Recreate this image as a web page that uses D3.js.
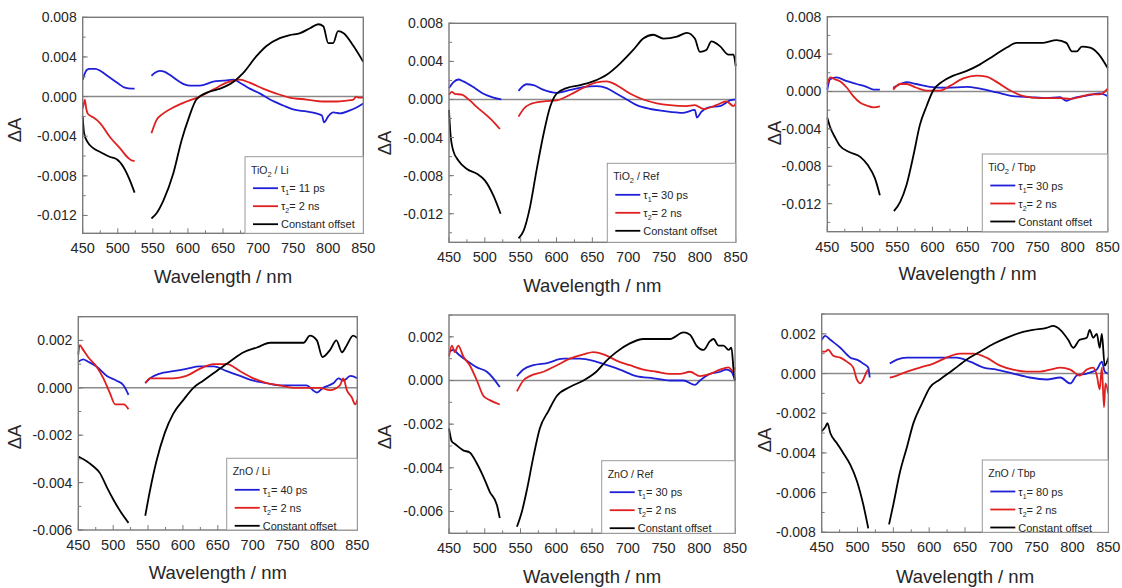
<!DOCTYPE html>
<html><head><meta charset="utf-8">
<script src="https://cdn.jsdelivr.net/npm/d3@7"></script>
<style>body{margin:0;background:#fff}svg{display:block;font-family:"Liberation Sans",Arial,sans-serif}</style>
</head><body><svg id="c" width="1122" height="588"></svg>
<script>
// ---------- data ----------
const xTicks = [450,500,550,600,650,700,750,800,850];
const yTicksTiO2 = [-0.012,-0.008,-0.004,0,0.004,0.008];
const yTicksZnOLi = [-0.006,-0.004,-0.002,0,0.002];
const yTicksZnORef = [-0.006,-0.004,-0.002,0,0.002];
const yTicksZnOTbp = [-0.008,-0.006,-0.004,-0.002,0,0.002];
const seriesNames = ["τ1", "τ2", "Constant offset"];
const tau1Labels = ["11 ps","30 ps","30 ps","40 ps","30 ps","80 ps"];
const tau2Label = "2 ns";
const sampleNames = [["TiO","2"," / Li"],["TiO","2"," / Ref"],["TiO","2"," / Tbp"],["ZnO",""," / Li"],["ZnO",""," / Ref"],["ZnO",""," / Tbp"]];

// TiO2 / Li
const tiLiBlue = [
 [[450,0.0017],[456,0.0027],[460,0.0028],[468,0.0028],[475,0.0026],[485,0.0021],[495,0.0016],[503,0.0012],[510,0.0009],[520,0.0008],[524,0.0008]],
 [[548,0.0021],[553,0.0024],[560,0.0026],[567,0.0025],[574,0.0022],[588,0.0015],[596,0.0012],[603,0.0011],[617,0.0011],[636,0.0015],[650,0.0016],[665,0.0017],[674,0.0014],[688,0.0008],[703,0.0003],[717,-0.0003],[736,-0.0009],[750,-0.0013],[769,-0.0015],[783,-0.0017],[791,-0.0019],[794,-0.0026],[800,-0.002],[807,-0.0016],[817,-0.0017],[831,-0.0014],[843,-0.001],[850,-0.0007]]];
const tiLiRed = [
 [[450,-0.0012],[452,-0.0006],[453,-0.0003],[455,-0.0012],[457,-0.0017],[460,-0.0019],[465,-0.0021],[475,-0.0027],[489,-0.0041],[503,-0.0052],[515,-0.0062],[522,-0.0065],[524,-0.0065]],
 [[548,-0.0037],[555,-0.0024],[565,-0.0017],[579,-0.0011],[598,-0.0005],[617,0],[636,0.0007],[655,0.0014],[665,0.0016],[674,0.0017],[688,0.0014],[707,0.0008],[726,0.0003],[745,-0.0001],[769,-0.0003],[793,-0.0005],[812,-0.0005],[826,-0.0004],[836,-0.0003],[840,0],[843,-0.0001],[850,-0.0001]]];
const tiLiBlack = [
 [[450,-0.002],[452,-0.0037],[457,-0.0046],[465,-0.0052],[475,-0.0056],[489,-0.0061],[498,-0.0063],[508,-0.0071],[517,-0.0084],[524,-0.0097]],
 [[548,-0.0123],[555,-0.0118],[565,-0.0105],[579,-0.0078],[591,-0.0044],[601,-0.0022],[612,-0.0003],[627,0.0004],[646,0.0008],[665,0.0015],[679,0.0024],[698,0.0041],[712,0.0051],[731,0.0059],[745,0.0062],[760,0.0064],[774,0.0069],[786,0.0073],[793,0.0071],[800,0.0054],[807,0.0054],[814,0.0066],[822,0.0064],[836,0.0051],[850,0.0035]]];

// TiO2 / Ref
const tiRefBlue = [
 [[450,0.0012],[456,0.0018],[463,0.0021],[470,0.0019],[484,0.0013],[498,0.0006],[512,0.0002],[523,0]],
 [[547,0.0009],[558,0.0016],[568,0.0015],[582,0.001],[600,0.0007],[619,0.001],[637,0.0013],[656,0.0014],[670,0.0012],[684,0.0006],[698,0],[712,-0.0006],[731,-0.001],[749,-0.0012],[777,-0.0014],[793,-0.0011],[796,-0.0019],[802,-0.0013],[814,-0.0008],[828,-0.0007],[842,-0.0001],[850,0]]];
const tiRefRed = [
 [[450,0.0005],[454,0.0008],[458,0.0006],[468,0.0005],[479,-0.0001],[489,-0.0008],[503,-0.0017],[514,-0.0025],[521,-0.0031]],
 [[547,-0.0018],[554,-0.001],[563,-0.0005],[582,-0.0002],[600,-0.0001],[619,0.0005],[637,0.0012],[656,0.0018],[670,0.0019],[684,0.0015],[703,0.0006],[721,0],[740,-0.0004],[758,-0.0006],[781,-0.0007],[793,-0.0006],[805,-0.001],[823,-0.0006],[837,-0.0002],[847,-0.0007],[850,-0.0004]]];
const tiRefBlack = [
 [[450,-0.0011],[452,-0.0036],[456,-0.0054],[463,-0.0064],[475,-0.0073],[489,-0.0078],[500,-0.0085],[512,-0.0101],[522,-0.012]],
 [[547,-0.0146],[554,-0.0138],[563,-0.0113],[572,-0.0075],[582,-0.0036],[591,-0.0008],[600,0.0006],[614,0.0012],[633,0.0015],[651,0.0019],[670,0.0026],[689,0.0038],[707,0.0052],[721,0.0064],[735,0.0068],[749,0.0064],[768,0.0066],[782,0.007],[793,0.0064],[800,0.005],[809,0.0052],[816,0.0061],[828,0.0056],[840,0.0047],[847,0.0047],[850,0.0035]]];

// TiO2 / Tbp
const tiTbpBlue = [
 [[450,0.0002],[454,0.0013],[463,0.0015],[478,0.0011],[492,0.0008],[506,0.0005],[516,0.0002],[525,0.0002]],
 [[544,0.0004],[554,0.0008],[563,0.001],[577,0.0008],[596,0.0005],[620,0.0004],[649,0.0005],[668,0.0003],[692,-0.0001],[715,-0.0005],[739,-0.0006],[763,-0.0007],[782,-0.0006],[791,-0.001],[801,-0.0007],[815,-0.0005],[829,-0.0003],[839,-0.0002],[850,-0.0005]]];
const tiTbpRed = [
 [[450,0.0008],[454,0.0015],[461,0.0013],[468,0.0011],[478,0.0004],[487,-0.0005],[497,-0.0012],[506,-0.0015],[516,-0.0017],[525,-0.0016]],
 [[544,0.0002],[554,0.0008],[563,0.0008],[577,0.0004],[592,0.0001],[611,0.0001],[625,0.0006],[644,0.0014],[663,0.0017],[677,0.0016],[692,0.001],[711,0.0001],[730,-0.0005],[753,-0.0007],[782,-0.0007],[796,-0.0008],[810,-0.0006],[825,-0.0003],[839,-0.0003],[850,0.0003]]];
const tiTbpBlack = [
 [[450,-0.0028],[454,-0.0038],[461,-0.0049],[468,-0.0058],[482,-0.0065],[497,-0.007],[508,-0.0079],[518,-0.0093],[525,-0.0111]],
 [[545,-0.0128],[554,-0.0118],[563,-0.01],[573,-0.0068],[582,-0.0036],[592,-0.0015],[601,0.0001],[613,0.001],[630,0.0017],[649,0.0022],[668,0.0029],[687,0.0038],[706,0.0047],[720,0.0052],[739,0.0052],[758,0.0052],[777,0.0055],[791,0.0052],[799,0.0043],[806,0.0043],[813,0.0048],[825,0.0047],[837,0.004],[850,0.0025]]];

// ZnO / Li
const znLiBlue = [
 [[450,0.0011],[457,0.0012],[464,0.0011],[476,0.0009],[491,0.0005],[505,0.0003],[515,0.0001],[522,-0.0003]],
 [[546,0.0002],[553,0.0004],[567,0.0006],[586,0.0007],[605,0.0008],[624,0.0009],[644,0.0009],[663,0.0007],[682,0.0005],[701,0.0003],[720,0.0002],[739,0.0001],[758,0.0001],[777,0.0001],[792,-0.0002],[801,0],[816,0.0002],[823,0.0004],[830,0.0003],[840,0.0005],[850,0.0004]]];
const znLiRed = [
 [[450,0.0014],[452,0.0018],[457,0.0016],[464,0.0013],[476,0.0009],[486,0.0004],[495,-0.0002],[503,-0.0007],[515,-0.0007],[522,-0.0009]],
 [[546,0.0002],[553,0.0004],[562,0.0004],[586,0.0004],[605,0.0005],[624,0.0008],[644,0.001],[663,0.001],[682,0.0007],[701,0.0004],[720,0.0002],[739,0.0001],[758,0],[777,0],[796,0],[811,-0.0001],[825,0.0001],[830,0.0004],[835,-0.0001],[842,-0.0004],[847,-0.0007],[850,-0.0005]]];
const znLiBlack = [
 [[450,-0.0029],[462,-0.0031],[471,-0.0033],[481,-0.0036],[491,-0.0042],[500,-0.0047],[510,-0.0052],[522,-0.0057]],
 [[546,-0.0054],[553,-0.0043],[562,-0.0031],[574,-0.0019],[586,-0.0011],[601,-0.0005],[615,0],[629,0.0003],[648,0.0007],[667,0.0011],[687,0.0015],[706,0.0017],[725,0.0019],[749,0.0019],[773,0.0019],[782,0.0022],[792,0.002],[800,0.0013],[811,0.0016],[820,0.002],[828,0.0015],[835,0.0018],[844,0.0022],[850,0.0021]]];

// ZnO / Ref
const znRefBlue = [
 [[450,0.0013],[456,0.0014],[463,0.0012],[475,0.0009],[489,0.0006],[503,0.0004],[512,0.0001],[521,-0.0003]],
 [[545,0.0002],[554,0.0005],[568,0.0007],[587,0.0008],[610,0.001],[633,0.001],[652,0.0009],[671,0.0007],[689,0.0005],[712,0.0002],[736,0.0001],[759,0],[778,0],[794,-0.0002],[801,0],[815,0.0003],[829,0.0004],[838,0.0005],[845,0.0004],[850,0]]];
const znRefRed = [
 [[450,0.0011],[454,0.0016],[458,0.0013],[463,0.0016],[470,0.0011],[479,0.0007],[489,0],[498,-0.0007],[507,-0.0009],[521,-0.0011]],
 [[545,-0.0005],[554,0],[563,0.0002],[582,0.0004],[601,0.0007],[619,0.001],[638,0.0012],[652,0.0013],[666,0.0012],[685,0.0009],[703,0.0007],[722,0.0005],[740,0.0004],[759,0.0003],[773,0.0003],[787,0.0004],[801,0.0002],[815,0.0003],[829,0.0005],[841,0.0006],[848,0.0004],[850,0.0006]]];
const znRefBlack = [
 [[450,-0.0022],[454,-0.0028],[458,-0.0029],[470,-0.0032],[479,-0.0033],[489,-0.0038],[498,-0.0044],[507,-0.0051],[517,-0.0057],[521,-0.0063]],
 [[545,-0.0067],[552,-0.006],[559,-0.005],[568,-0.0035],[577,-0.0022],[589,-0.0014],[601,-0.0007],[619,-0.0003],[638,0],[656,0.0004],[670,0.0009],[684,0.0013],[703,0.0017],[722,0.0019],[740,0.0019],[759,0.0019],[778,0.0022],[787,0.0021],[796,0.0016],[806,0.0014],[815,0.0018],[820,0.0019],[827,0.0016],[834,0.0016],[841,0.0014],[845,0.0015],[848,0.0005],[850,0]]];

// ZnO / Tbp
const znTbpBlue = [
 [[450,0.0017],[455,0.0019],[462,0.0017],[476,0.0013],[490,0.0008],[499,0.0007],[508,0.0005],[515,0.0003],[517,-0.0002]],
 [[545,0.0005],[555,0.0007],[569,0.0008],[592,0.0008],[615,0.0008],[638,0.0008],[657,0.0006],[676,0.0003],[694,0.0002],[717,0],[740,-0.0002],[764,-0.0003],[783,-0.0002],[797,-0.0005],[806,-0.0001],[820,0],[834,0.0002],[841,0.0006],[845,0.0001],[850,0]]];
const znTbpRed = [
 [[450,0.0011],[455,0.0011],[459,0.0012],[466,0.0009],[476,0.0008],[485,0.0006],[494,0.0003],[499,-0.0003],[504,-0.0005],[508,-0.0003],[513,0.0001],[515,0.0002]],
 [[545,-0.0002],[555,-0.0001],[569,0.0001],[587,0.0003],[606,0.0005],[624,0.0008],[643,0.001],[662,0.001],[680,0.0008],[699,0.0004],[717,0.0002],[736,0.0001],[755,0.0001],[769,0.0002],[783,0.0003],[797,0.0002],[810,-0.0001],[820,0.0002],[829,0.0003],[834,-0.0001],[838,-0.0008],[841,0.0003],[844,-0.0017],[846,-0.0005],[850,-0.001]]];
const znTbpBlack = [
 [[450,-0.0029],[455,-0.0027],[458,-0.0025],[462,-0.003],[471,-0.0035],[480,-0.004],[490,-0.0046],[499,-0.0054],[508,-0.0066],[515,-0.0078]],
 [[544,-0.0076],[550,-0.0066],[559,-0.005],[569,-0.0037],[578,-0.0025],[590,-0.0015],[601,-0.0007],[615,-0.0003],[634,0.0002],[652,0.0007],[671,0.0011],[690,0.0015],[708,0.0018],[731,0.0021],[745,0.0022],[764,0.0023],[773,0.0024],[783,0.0022],[794,0.0017],[801,0.0013],[810,0.0017],[820,0.0018],[824,0.0022],[829,0.0018],[834,0.002],[838,0.0013],[841,0.002],[845,0.0004],[850,0.0008]]];

// ---------- layout ----------
const panels = [
 {l:82.7,r:363.3,t:17.3,b:233.3,y0:-0.0138,y1:0.008,yt:yTicksTiO2,ym:0.002,data:[tiLiBlue,tiLiRed,tiLiBlack],lg:{x:245,y:156.7,w:118.3,h:76.6},yl:[15,130],xt:277},
 {l:449,r:735.7,t:23.3,b:242.3,y0:-0.015,y1:0.008,yt:yTicksTiO2,ym:0.002,data:[tiRefBlue,tiRefRed,tiRefBlack],lg:{x:607.3,y:163.3,w:128.4,h:79},yl:[385,143],xt:286},
 {l:827.3,r:1107.7,t:16.7,b:231.7,y0:-0.015,y1:0.008,yt:yTicksTiO2,ym:0.002,data:[tiTbpBlue,tiTbpRed,tiTbpBlack],lg:{x:982.3,y:154,w:125.4,h:77.7},yl:[775,133],xt:274},
 {l:78.3,r:357.3,t:316.7,b:530,y0:-0.006,y1:0.003,yt:yTicksZnOLi,ym:0.001,data:[znLiBlue,znLiRed,znLiBlack],lg:{x:226.7,y:458.3,w:130.6,h:71.7},yl:[15,437],xt:573},
 {l:449,r:735,t:315,b:533.3,y0:-0.007,y1:0.003,yt:yTicksZnORef,ym:0.001,data:[znRefBlue,znRefRed,znRefBlack],lg:{x:601.7,y:460.7,w:133.3,h:72.6},yl:[385,437],xt:577},
 {l:821.7,r:1108.3,t:314,b:532.3,y0:-0.008,y1:0.003,yt:yTicksZnOTbp,ym:0.001,data:[znTbpBlue,znTbpRed,znTbpBlack],lg:{x:982.3,y:460,w:126,h:72.3},yl:[765,440],xt:577}
];
const colors = ["#1f1fd8","#e01f1f","#000000"];
const axisColor = "#7a7a7a";
const textColor = "#262626";

const svg = d3.select("#c");
const fmt = v => Math.abs(v) < 1e-9 ? "0.000" : v.toFixed(3);

panels.forEach((p, i) => {
  const x = d3.scaleLinear().domain([450, 850]).range([p.l, p.r]);
  const y = d3.scaleLinear().domain([p.y0, p.y1]).range([p.b, p.t]);
  const g = svg.append("g");

  // zero line
  g.append("line").attr("x1", p.l).attr("x2", p.r).attr("y1", y(0)).attr("y2", y(0))
    .attr("stroke", "#8a8a8a").attr("stroke-width", 1.6);

  // curves
  const line = d3.line().curve(d3.curveMonotoneX).x(d => x(d[0])).y(d => y(d[1]));
  p.data.forEach((ser, k) => {
    ser.forEach(seg => {
      g.append("path").attr("d", line(seg)).attr("fill", "none")
        .attr("stroke", colors[k]).attr("stroke-width", 1.8).attr("stroke-linejoin", "round");
    });
  });

  // ticks (inward)
  d3.range(450, 851, 25).forEach(v => {
    const major = v % 50 === 0;
    g.append("line").attr("x1", x(v)).attr("x2", x(v)).attr("y1", p.b).attr("y2", p.b - (major ? 5 : 3))
      .attr("stroke", axisColor).attr("stroke-width", 1);
  });
  d3.range(Math.ceil(p.y0 / p.ym) * p.ym, p.y1 + 1e-9, p.ym).forEach(v => {
    g.append("line").attr("x1", p.l).attr("x2", p.l + 3).attr("y1", y(v)).attr("y2", y(v))
      .attr("stroke", axisColor).attr("stroke-width", 1);
  });
  p.yt.forEach(v => {
    g.append("line").attr("x1", p.l).attr("x2", p.l + 5).attr("y1", y(v)).attr("y2", y(v))
      .attr("stroke", axisColor).attr("stroke-width", 1);
  });

  // frame
  g.append("rect").attr("x", p.l).attr("y", p.t).attr("width", p.r - p.l).attr("height", p.b - p.t)
    .attr("fill", "none").attr("stroke", axisColor).attr("stroke-width", 1.4);

  // tick labels
  xTicks.forEach(v => {
    g.append("text").attr("x", x(v)).attr("y", p.b + 20).attr("text-anchor", "middle")
      .attr("font-size", 14.5).attr("fill", textColor).text(v);
  });
  p.yt.forEach(v => {
    g.append("text").attr("x", p.l - 6).attr("y", y(v) + 5).attr("text-anchor", "end")
      .attr("font-size", 14).attr("fill", textColor).text(fmt(v));
  });

  // axis titles
  g.append("text").attr("x", (p.l + p.r) / 2).attr("y", p.xt + 6).attr("text-anchor", "middle")
    .attr("font-size", 18.5).attr("fill", textColor).text("Wavelength / nm");
  g.append("text").attr("transform", `translate(${p.yl[0] + 6},${p.yl[1]}) rotate(-90)`)
    .attr("text-anchor", "middle").attr("font-size", 18.5).attr("fill", textColor).text("ΔA");

  // legend
  const L = p.lg;
  g.append("rect").attr("x", L.x).attr("y", L.y).attr("width", L.w).attr("height", L.h)
    .attr("fill", "#fff").attr("stroke", "#9a9a9a").attr("stroke-width", 1);
  const nm = sampleNames[i];
  const tt = g.append("text").attr("x", L.x + 6).attr("y", L.y + 17).attr("font-size", 10.5).attr("fill", textColor);
  tt.append("tspan").text(nm[0]);
  if (nm[1]) tt.append("tspan").attr("font-size", 7.5).attr("dy", 3).text(nm[1]);
  tt.append("tspan").attr("dy", nm[1] ? -3 : 0).text(nm[2]);
  const labels = [["τ","1","= " + tau1Labels[i]], ["τ","2","= " + tau2Label], ["Constant offset","",""]];
  labels.forEach((lb, k) => {
    const yy = L.y + 31.5 + k * 18;
    g.append("line").attr("x1", L.x + 8).attr("x2", L.x + 33).attr("y1", yy).attr("y2", yy)
      .attr("stroke", colors[k]).attr("stroke-width", 1.8);
    const t = g.append("text").attr("x", L.x + 36).attr("y", yy + 4).attr("font-size", 11).attr("fill", textColor);
    t.append("tspan").text(lb[0]);
    if (lb[1]) {
      t.append("tspan").attr("font-size", 7).attr("dy", 3).text(lb[1]);
      t.append("tspan").attr("dy", -3).text(lb[2]);
    }
  });
});
</script></body></html>
